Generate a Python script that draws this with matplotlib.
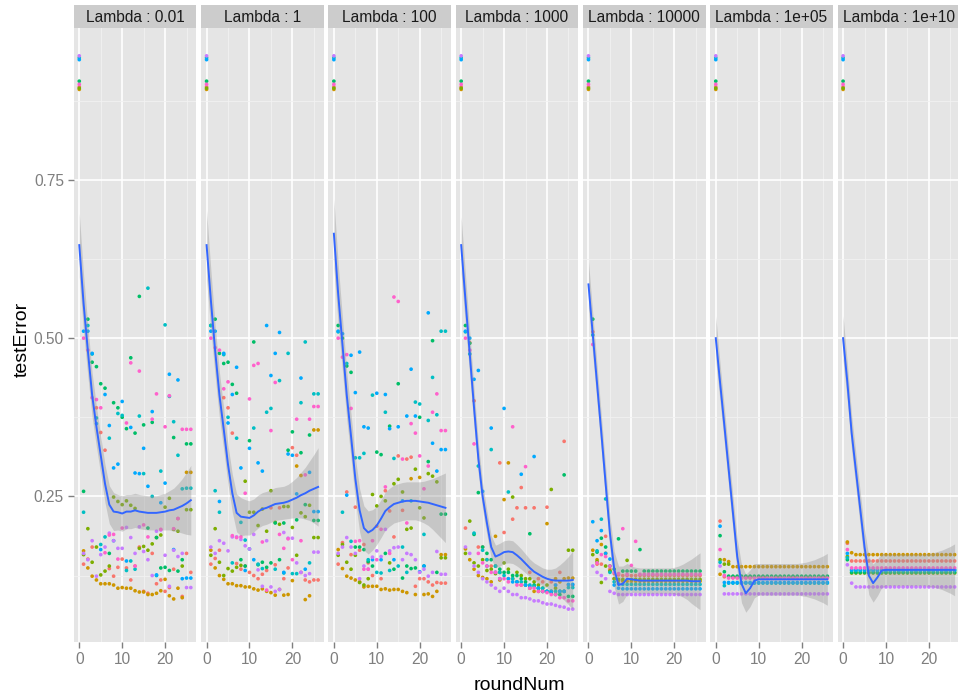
import numpy as np
import matplotlib.pyplot as plt

plt.rcParams['font.family'] = ['Liberation Sans', 'DejaVu Sans']

# rounds 0..26 on the x axis
rounds = np.arange(27)
lambdas = ['0.01', '1', '100', '1000', '10000', '1e+05', '1e+10']
# ggplot hue palette, 8 groups
colors = ['#F8766D', '#CD9600', '#7CAE00', '#00BE67', '#00BFC4', '#00A9FF', '#C77CFF', '#FF61CC']

# testError per group (rows) and round (columns), one table per lambda
err_l001 = [
    [.897, .143, .151, .170, .390, .351, .323, .136, .124, .138, .151, .137, .118, .140, .170, .100, .097, .160, .112, .118, .100, .106, .135, .215, .092, .160, .130],
    [.893, .164, .137, .124, .118, .112, .112, .112, .110, .105, .106, .105, .105, .101, .099, .099, .095, .095, .097, .101, .119, .093, .088, .105, .090, .288, .288],
    [.895, .158, .199, .146, .170, .126, .132, .140, .249, .242, .237, .243, .236, .231, .168, .171, .165, .175, .185, .189, .233, .247, .198, .195, .140, .229, .229],
    [.906, .258, .530, .462, .455, .428, .421, .160, .398, .390, .375, .357, .469, .350, .566, .363, .200, .367, .185, .137, .138, .133, .343, .132, .150, .333, .333],
    [.943, .225, .520, .475, .374, .174, .186, .342, .180, .381, .378, .133, .148, .135, .377, .286, .579, .250, .125, .290, .521, .408, .368, .315, .262, .263, .263],
    [.940, .511, .511, .476, .365, .166, .411, .362, .295, .301, .400, .148, .359, .287, .286, .326, .266, .384, .126, .240, .271, .443, .166, .434, .120, .121, .121],
    [.946, .160, .150, .180, .124, .158, .170, .192, .180, .168, .168, .201, .185, .160, .202, .163, .150, .125, .195, .197, .157, .108, .165, .155, .160, .106, .106],
    [.901, .500, .481, .406, .403, .390, .161, .189, .190, .151, .200, .366, .461, .140, .448, .205, .186, .372, .412, .198, .360, .409, .199, .215, .356, .356, .356],
]
err_l1 = [
    [.897, .143, .152, .165, .406, .390, .350, .144, .135, .140, .130, .125, .120, .127, .133, .232, .142, .232, .120, .137, .327, .315, .130, .118, .115, .118, .118],
    [.893, .165, .137, .125, .119, .112, .112, .109, .109, .107, .107, .104, .102, .104, .100, .098, .094, .103, .094, .095, .117, .298, .283, .087, .093, .355, .355],
    [.895, .157, .199, .146, .125, .136, .132, .138, .141, .274, .225, .225, .204, .230, .195, .259, .209, .206, .234, .234, .201, .157, .224, .218, .236, .185, .185],
    [.906, .520, .530, .476, .460, .462, .427, .413, .150, .140, .338, .494, .142, .146, .138, .145, .208, .150, .208, .323, .352, .213, .319, .237, .347, .212, .212],
    [.943, .520, .259, .225, .474, .375, .145, .342, .209, .181, .167, .358, .143, .136, .383, .389, .135, .433, .129, .476, .128, .128, .398, .494, .145, .412, .412],
    [.940, .511, .511, .242, .476, .366, .411, .454, .295, .133, .326, .150, .303, .290, .520, .441, .476, .509, .130, .317, .315, .254, .437, .135, .288, .226, .226],
    [.946, .170, .160, .180, .176, .164, .186, .186, .182, .172, .167, .190, .134, .108, .180, .107, .100, .103, .193, .184, .184, .145, .130, .125, .128, .162, .162],
    [.901, .500, .485, .481, .420, .431, .188, .185, .186, .255, .404, .457, .460, .178, .102, .354, .430, .190, .168, .183, .150, .372, .180, .284, .372, .392, .392],
]
err_l100 = [
    [.897, .143, .177, .257, .158, .233, .165, .174, .145, .125, .203, .120, .259, .227, .186, .314, .228, .309, .312, .108, .120, .120, .115, .110, .114, .113, .113],
    [.893, .166, .136, .124, .121, .118, .115, .107, .108, .108, .108, .103, .104, .102, .103, .103, .100, .098, .278, .095, .280, .095, .096, .092, .100, .158, .158],
    [.895, .157, .174, .146, .135, .157, .114, .110, .120, .253, .235, .250, .243, .145, .270, .277, .257, .198, .200, .293, .232, .216, .286, .282, .273, .153, .153],
    [.906, .520, .500, .456, .446, .170, .170, .166, .147, .140, .320, .316, .160, .361, .135, .428, .121, .140, .136, .137, .375, .140, .305, .496, .130, .222, .222],
    [.943, .510, .225, .460, .179, .311, .311, .318, .150, .410, .130, .129, .383, .133, .310, .140, .170, .130, .243, .399, .396, .190, .370, .438, .379, .511, .511],
    [.940, .511, .507, .252, .473, .414, .478, .360, .358, .150, .413, .150, .411, .357, .150, .360, .243, .377, .451, .377, .131, .140, .540, .334, .290, .324, .324],
    [.946, .160, .170, .185, .170, .160, .120, .140, .135, .154, .164, .155, .198, .164, .169, .170, .150, .160, .158, .150, .130, .135, .124, .130, .163, .127, .127],
    [.901, .500, .470, .474, .389, .179, .180, .135, .135, .180, .150, .198, .265, .160, .565, .558, .309, .208, .365, .350, .314, .262, .298, .383, .412, .354, .354],
]
err_l1000 = [
    [.897, .200, .493, .401, .170, .170, .150, .140, .130, .303, .193, .120, .214, .232, .264, .232, .130, .232, .120, .115, .233, .115, .110, .130, .337, .110, .110],
    [.893, .167, .150, .135, .125, .122, .120, .115, .187, .118, .245, .303, .120, .115, .110, .110, .105, .100, .100, .100, .207, .100, .120, .115, .120, .121, .121],
    [.895, .160, .211, .145, .140, .150, .133, .135, .128, .130, .145, .135, .249, .130, .125, .120, .120, .115, .110, .105, .110, .261, .105, .100, .100, .165, .165],
    [.906, .520, .492, .190, .256, .170, .160, .150, .140, .135, .130, .130, .125, .125, .120, .115, .191, .110, .105, .100, .100, .098, .095, .095, .284, .092, .092],
    [.943, .510, .475, .192, .298, .165, .150, .324, .140, .130, .125, .257, .120, .115, .115, .110, .110, .108, .105, .105, .100, .100, .100, .100, .100, .106, .106],
    [.940, .511, .500, .435, .449, .258, .140, .358, .130, .120, .389, .120, .115, .115, .285, .110, .108, .313, .105, .100, .100, .100, .110, .100, .100, .111, .111],
    [.946, .170, .160, .140, .130, .120, .115, .110, .105, .100, .105, .100, .095, .095, .090, .090, .088, .085, .085, .082, .080, .080, .078, .076, .075, .072, .072],
    [.901, .500, .481, .333, .160, .145, .140, .130, .130, .120, .120, .115, .360, .110, .110, .297, .105, .105, .100, .100, .098, .095, .095, .090, .090, .085, .085],
]
err_l1e4 = [
    [.897, .510, .143, .143, .187, .135, .128, .126, .125, .125, .125, .125, .125, .125, .125, .125, .125, .125, .125, .125, .125, .125, .125, .125, .125, .125, .125],
    [.893, .165, .150, .174, .160, .132, .120, .117, .116, .116, .116, .116, .116, .116, .116, .116, .116, .116, .116, .116, .116, .116, .116, .116, .116, .116, .116],
    [.895, .158, .147, .114, .140, .132, .120, .119, .119, .149, .119, .119, .119, .119, .119, .119, .119, .119, .119, .119, .119, .119, .119, .119, .119, .119, .119],
    [.906, .530, .162, .184, .170, .140, .135, .183, .132, .132, .132, .132, .166, .132, .132, .132, .132, .132, .132, .132, .132, .132, .132, .132, .132, .132, .132],
    [.943, .505, .164, .214, .246, .130, .115, .112, .111, .111, .111, .111, .111, .111, .111, .111, .111, .111, .111, .111, .111, .111, .111, .111, .111, .111, .111],
    [.940, .210, .180, .196, .160, .151, .110, .105, .104, .104, .104, .104, .104, .104, .104, .104, .104, .104, .104, .104, .104, .104, .104, .104, .104, .104, .104],
    [.946, .140, .130, .125, .120, .100, .097, .095, .095, .095, .095, .095, .095, .095, .095, .095, .095, .095, .095, .095, .095, .095, .095, .095, .095, .095, .095],
    [.901, .490, .145, .158, .155, .140, .130, .128, .199, .127, .141, .179, .127, .127, .127, .127, .127, .127, .127, .127, .127, .127, .127, .127, .127, .127, .127],
]
err_l1e5 = [
    [.897, .211, .123, .123, .123, .123, .123, .123, .123, .123, .123, .123, .123, .123, .123, .123, .123, .123, .123, .123, .123, .123, .123, .123, .123, .123, .123],
    [.893, .127, .150, .147, .139, .139, .139, .139, .139, .139, .139, .139, .139, .139, .139, .139, .139, .139, .139, .139, .139, .139, .139, .139, .139, .139, .139],
    [.895, .150, .143, .143, .122, .122, .122, .122, .122, .122, .122, .122, .122, .122, .122, .122, .122, .122, .122, .122, .122, .122, .122, .122, .122, .122, .122],
    [.906, .188, .131, .124, .124, .124, .124, .124, .124, .124, .124, .124, .124, .124, .124, .124, .124, .124, .124, .124, .124, .124, .124, .124, .124, .124, .124],
    [.943, .146, .109, .113, .113, .113, .113, .113, .113, .113, .113, .113, .113, .113, .113, .113, .113, .113, .113, .113, .113, .113, .113, .113, .113, .113, .113],
    [.940, .203, .114, .114, .114, .114, .114, .114, .114, .114, .114, .114, .114, .114, .114, .114, .114, .114, .114, .114, .114, .114, .114, .114, .114, .114, .114],
    [.946, .140, .096, .096, .096, .096, .096, .096, .096, .096, .096, .096, .096, .096, .096, .096, .096, .096, .096, .096, .096, .096, .096, .096, .096, .096, .096],
    [.901, .166, .125, .121, .121, .121, .121, .121, .121, .121, .121, .121, .121, .121, .121, .121, .121, .121, .121, .121, .121, .121, .121, .121, .121, .121, .121],
]
err_l1e10 = [
    [.897, .176, .148, .148, .148, .148, .148, .148, .148, .148, .148, .148, .148, .148, .148, .148, .148, .148, .148, .148, .148, .148, .148, .148, .148, .148, .148],
    [.893, .178, .161, .158, .158, .158, .158, .158, .158, .158, .158, .158, .158, .158, .158, .158, .158, .158, .158, .158, .158, .158, .158, .158, .158, .158, .158],
    [.895, .155, .129, .129, .129, .129, .129, .129, .129, .129, .129, .129, .129, .129, .129, .129, .129, .129, .129, .129, .129, .129, .129, .129, .129, .129, .129],
    [.906, .150, .130, .130, .130, .130, .130, .130, .130, .130, .130, .130, .130, .130, .130, .130, .130, .130, .130, .130, .130, .130, .130, .130, .130, .130, .130],
    [.943, .153, .133, .133, .133, .133, .133, .133, .133, .133, .133, .133, .133, .133, .133, .133, .133, .133, .133, .133, .133, .133, .133, .133, .133, .133, .133],
    [.940, .160, .134, .134, .134, .134, .134, .134, .134, .134, .134, .134, .134, .134, .134, .134, .134, .134, .134, .134, .134, .134, .134, .134, .134, .134, .134],
    [.946, .142, .113, .107, .107, .107, .107, .107, .107, .107, .107, .107, .107, .107, .107, .107, .107, .107, .107, .107, .107, .107, .107, .107, .107, .107, .107],
    [.901, .166, .137, .137, .137, .137, .137, .137, .137, .137, .137, .137, .137, .137, .137, .137, .137, .137, .137, .137, .137, .137, .137, .137, .137, .137, .137],
]

# loess smoother and its standard-error half width
smooth_l001 = [.647, .555, .480, .410, .360, .315, .270, .237, .226, .225, .223, .226, .226, .228, .226, .225, .224, .224, .224, .225, .226, .228, .229, .232, .235, .239, .244]
se_l001 = [.050, .045, .040, .035, .032, .030, .030, .030, .030, .028, .028, .027, .027, .027, .027, .027, .027, .027, .027, .028, .029, .031, .034, .038, .043, .049, .055]
smooth_l1 = [.647, .560, .480, .410, .356, .300, .255, .224, .218, .217, .216, .220, .226, .230, .232, .235, .238, .239, .240, .242, .245, .248, .252, .255, .259, .262, .265]
se_l1 = [.055, .048, .040, .036, .033, .031, .030, .030, .030, .028, .027, .026, .026, .026, .026, .026, .026, .026, .026, .027, .029, .032, .036, .041, .047, .054, .062]
smooth_l100 = [.665, .570, .490, .410, .345, .278, .228, .200, .193, .197, .204, .215, .227, .233, .238, .240, .242, .243, .243, .243, .242, .241, .240, .238, .236, .234, .232]
se_l100 = [.055, .048, .042, .038, .035, .034, .034, .035, .034, .032, .030, .030, .030, .030, .030, .030, .030, .030, .030, .030, .031, .033, .036, .040, .045, .050, .055]
smooth_l1000 = [.647, .560, .475, .390, .310, .250, .208, .170, .155, .158, .162, .163, .162, .157, .151, .144, .137, .131, .127, .123, .120, .118, .117, .117, .117, .117, .118]
se_l1000 = [.045, .040, .035, .030, .025, .021, .019, .018, .018, .018, .018, .018, .018, .017, .016, .015, .014, .014, .014, .014, .015, .017, .020, .025, .031, .038, .046]
smooth_l1e4 = [.585, .506, .428, .350, .270, .192, .135, .110, .112, .120, .119, .118, .117, .117, .117, .117, .117, .117, .117, .117, .117, .117, .117, .117, .116, .116, .116]
se_l1e4 = [.037, .033, .030, .028, .027, .027, .028, .030, .028, .024, .021, .020, .020, .020, .020, .020, .020, .020, .020, .020, .021, .023, .026, .030, .035, .040, .045]
smooth_l1e5 = [.500, .430, .362, .293, .224, .155, .112, .097, .105, .117, .119, .119, .119, .119, .119, .119, .119, .119, .119, .119, .119, .119, .119, .119, .119, .119, .119]
se_l1e5 = [.035, .030, .028, .027, .027, .028, .030, .030, .029, .027, .025, .025, .025, .025, .025, .025, .025, .025, .025, .025, .026, .027, .029, .031, .034, .037, .041]
smooth_l1e10 = [.500, .430, .350, .290, .230, .170, .125, .113, .122, .133, .134, .134, .134, .134, .134, .134, .134, .134, .134, .134, .134, .134, .134, .134, .134, .134, .134]
se_l1e10 = [.035, .030, .028, .027, .027, .028, .030, .030, .029, .027, .025, .025, .025, .025, .025, .025, .025, .025, .025, .025, .026, .027, .029, .031, .034, .037, .041]

panels = [
    (err_l001, smooth_l001, se_l001),
    (err_l1, smooth_l1, se_l1),
    (err_l100, smooth_l100, se_l100),
    (err_l1000, smooth_l1000, se_l1000),
    (err_l1e4, smooth_l1e4, se_l1e4),
    (err_l1e5, smooth_l1e5, se_l1e5),
    (err_l1e10, smooth_l1e10, se_l1e10),
]

W, H = 958, 696
fig = plt.figure(figsize=(W / 100, H / 100), dpi=100)

grey_txt = '#7F7F7F'
for i, (lam, (err, sm, se)) in enumerate(zip(lambdas, panels)):
    left = 73.7 + i * 127.3
    ax = fig.add_axes([left / W, (H - 642) / H, 122.7 / W, 614 / H])
    ax.set_facecolor('#E5E5E5')
    ax.set_axisbelow(True)
    for s in ax.spines.values():
        s.set_visible(False)
    ax.set_xlim(-1.3, 27.3)
    ax.set_ylim(0.02, 0.99)
    ax.set_xticks([0, 10, 20])
    ax.set_xticks([5, 15, 25], minor=True)
    ax.set_yticks([0.25, 0.50, 0.75])
    ax.set_yticks([0.125, 0.375, 0.625, 0.875], minor=True)
    ax.grid(which='major', color='white', linewidth=1.2)
    ax.grid(which='minor', color='#F2F2F2', linewidth=0.6)
    ax.tick_params(which='major', length=4, width=1, color=grey_txt,
                   labelcolor=grey_txt, labelsize=11.2, pad=3)
    ax.tick_params(which='minor', length=0)
    if i == 0:
        ax.set_yticklabels(['0.25', '0.50', '0.75'])
    else:
        ax.tick_params(axis='y', which='major', length=0, labelleft=False)

    for vals, col in zip(err, colors):
        ax.scatter(rounds, vals, s=7, color=col, edgecolors='none', zorder=2)

    sm = np.array(sm)
    se = np.array(se)
    ax.fill_between(rounds, sm - se, sm + se, color='#999999', alpha=0.4,
                    linewidth=0, zorder=3)
    ax.plot(rounds, sm, color='#3366FF', linewidth=1.4, zorder=4)

    # facet strip
    sax = fig.add_axes([left / W, (H - 28) / H, 122.7 / W, 23 / H])
    sax.set_facecolor('#CCCCCC')
    sax.set_xticks([])
    sax.set_yticks([])
    for s in sax.spines.values():
        s.set_visible(False)
    sax.text(0.5, 0.45, 'Lambda : ' + lam, ha='center', va='center',
             fontsize=11.2, color='#1A1A1A', transform=sax.transAxes, clip_on=False)

fig.text(519 / W, 1 - 686 / H, 'roundNum', ha='center', va='center', fontsize=14)
fig.text(22 / W, 1 - 339 / H, 'testError', ha='center', va='center', fontsize=14, rotation=90)

fig.savefig('out.png', dpi=100)
